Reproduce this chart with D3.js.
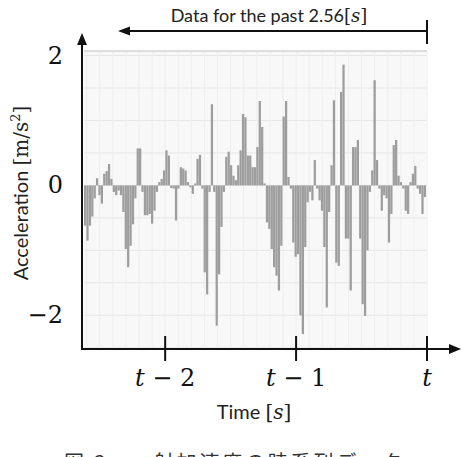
<!DOCTYPE html>
<html><head><meta charset="utf-8">
<script src="https://cdn.jsdelivr.net/npm/d3@7"></script>
<style>
html,body{margin:0;padding:0;background:#fff;}
svg{display:block;}
</style></head>
<body>
<svg id="chart" width="461" height="457"></svg>
<script>
// acceleration samples [m/s^2], oldest -> newest (past 2.56 s)
const accel = [
 -0.62,-0.85,-0.62,-0.48,-0.20, 0.11,-0.15,-0.28, 0.18, 0.22,
  0.33, 0.10,-0.10,-0.15,-0.08,-0.15,-0.41,-0.98,-1.26,-0.93,
 -0.60,-0.20, 0.57, 0.57,-0.10,-0.46,-0.46,-0.44,-0.59,-0.39,
 -0.10, 0.05, 0.10, 0.23, 0.54, 0.46,-0.04,-0.05,-0.54,-0.05,
  0.28, 0.26, 0.23, 0.05,-0.03,-0.13, 0.03, 0.41, 0.47,-0.05,
 -1.34,-1.68,-0.10, 1.25,-0.10,-2.16,-1.37,-0.64,-0.10, 0.44,
  0.52, 0.31, 0.15, 0.08, 0.31, 0.54, 1.10, 1.05, 0.46, 0.46,
  0.28, 0.28, 0.59, 1.30, 0.90, 0.03,-0.57,-0.67,-0.98,-1.26,
 -1.39,-1.62,-0.93, 1.06, 1.30, 0.13,-0.05,-0.88,-1.10,-1.06,
 -2.00,-2.29,-0.95,-0.26,-0.10,-0.23, 0.39,-0.05,-0.23,-0.39,
 -0.95,-1.88,-0.41, 0.31, 1.31,-1.19,-1.24, 1.44, 1.86,-0.82,
 -0.82,-1.62, 0.59, 0.59, 0.70,-0.82,-1.83,-2.01,-1.00,-0.10,
  0.23, 1.62, 0.39,-0.05,-0.39,-0.15,-0.20,-0.88,-0.44, 0.62,
  0.70, 0.15, 0.05,-0.05,-0.39,-0.44, 0.05, 0.18, 0.30,-0.05,
 -0.13,-0.44,-0.18
];
const sampleIndex = accel.map((d, i) => i);
const timeTicks = [-2, -1, 0];
const timeTickLabels = [["t", " − 2"], ["t", " − 1"], ["t", ""]];
const yTicks = [2, 0, -2];
const yTickLabels = ["2", "0", "−2"];
const titleText = "Data for the past 2.56";
const captionText = "図 3　　射加速度の時系列データ";

const svg = d3.select("#chart");
const mathFont = "'DejaVu Serif', serif";
const textFont = "Lato, 'Open Sans', sans-serif";

const plotL = 84, plotR = 427, plotT = 51, plotB = 349;
const y = d3.scaleLinear().domain([-2.52, 2.07]).range([plotB, plotT]);
const xt = d3.scaleLinear().domain([-2.62, 0]).range([plotL, plotR]);
const xb = d3.scaleBand().domain(sampleIndex).range([plotL, 426]).paddingInner(0.06);

// plot background
svg.append("rect").attr("x", plotL).attr("y", plotT).attr("width", plotR - plotL)
  .attr("height", plotB - plotT).attr("fill", "#f8f8f8");

// grid
const g = svg.append("g");
const hGrid = d3.range(-2.5, 2.01, 0.5);
g.selectAll(".hg").data(hGrid).join("line")
  .attr("x1", plotL).attr("x2", plotR)
  .attr("y1", d => y(d)).attr("y2", d => y(d))
  .attr("stroke", "#e6e6e6").attr("stroke-width", 1);
const vGrid = d3.range(-2.6, 0.001, 0.1);
g.selectAll(".vg").data(vGrid).join("line")
  .attr("x1", d => xt(d)).attr("x2", d => xt(d))
  .attr("y1", plotT).attr("y2", plotB)
  .attr("stroke", "#eeeeee").attr("stroke-width", 1);
svg.append("line").attr("x1", plotL).attr("x2", plotR).attr("y1", plotT).attr("y2", plotT)
  .attr("stroke", "#d4d4d4").attr("stroke-width", 1.5);

// bars
svg.append("g").selectAll("rect").data(accel).join("rect")
  .attr("x", (d, i) => xb(i))
  .attr("width", xb.bandwidth())
  .attr("y", d => y(Math.max(0, d)))
  .attr("height", d => Math.abs(y(d) - y(0)))
  .attr("fill", "#9d9d9d");

// axes
const ax = svg.append("g");
ax.append("line").attr("x1", 82).attr("x2", 82).attr("y1", plotB + 1).attr("y2", 40)
  .attr("stroke", "#111").attr("stroke-width", 2);
ax.append("path").attr("d", "M82,33 L77,45 L87,45 Z").attr("fill", "#111");
ax.append("line").attr("x1", 81).attr("x2", 452).attr("y1", plotB).attr("y2", plotB)
  .attr("stroke", "#111").attr("stroke-width", 2);
ax.append("path").attr("d", `M461,${plotB} L449,${plotB - 5} L449,${plotB + 5} Z`).attr("fill", "#111");

// x ticks
ax.selectAll(".xt").data(timeTicks).join("line")
  .attr("x1", d => xt(d)).attr("x2", d => xt(d))
  .attr("y1", plotB - 13).attr("y2", plotB + 12)
  .attr("stroke", "#111").attr("stroke-width", 2);
const xl = ax.selectAll(".xl").data(timeTicks).join("text")
  .attr("x", d => xt(d)).attr("y", 386)
  .attr("text-anchor", "middle")
  .attr("font-family", mathFont).attr("font-size", 24).attr("fill", "#111");
xl.append("tspan").attr("font-style", "italic").text((d, i) => timeTickLabels[i][0]);
xl.append("tspan").text((d, i) => timeTickLabels[i][1]);

// y tick labels
ax.selectAll(".yl").data(yTicks).join("text")
  .attr("x", 63).attr("y", d => y(d) + 8)
  .attr("text-anchor", "end")
  .attr("font-family", mathFont).attr("font-size", 24).attr("fill", "#111")
  .text((d, i) => yTickLabels[i]);

// axis titles
const xTitle = svg.append("text").attr("x", 254).attr("y", 419).attr("text-anchor", "middle")
  .attr("font-family", textFont).attr("font-size", 20).attr("fill", "#222");
xTitle.append("tspan").text("Time ");
xTitle.append("tspan").attr("font-family", mathFont).text("[");
xTitle.append("tspan").attr("font-family", mathFont).attr("font-style", "italic").text("s");
xTitle.append("tspan").attr("font-family", mathFont).text("]");

const yTitle = svg.append("text").attr("transform", "translate(28,193) rotate(-90)")
  .attr("text-anchor", "middle")
  .attr("font-family", textFont).attr("font-size", 20).attr("fill", "#222");
yTitle.append("tspan").text("Acceleration ");
yTitle.append("tspan").attr("font-family", mathFont).text("[m/s");
yTitle.append("tspan").attr("font-family", mathFont).attr("font-size", 13).attr("dy", -8).text("2");
yTitle.append("tspan").attr("font-family", mathFont).attr("dy", 8).text("]");

// top annotation
const topNote = svg.append("text").attr("x", 269).attr("y", 22).attr("text-anchor", "middle")
  .attr("font-family", textFont).attr("font-size", 18).attr("fill", "#222");
topNote.append("tspan").text(titleText);
topNote.append("tspan").attr("font-family", mathFont).text("[");
topNote.append("tspan").attr("font-family", mathFont).attr("font-style", "italic").text("s");
topNote.append("tspan").attr("font-family", mathFont).text("]");
svg.append("line").attr("x1", 124).attr("x2", xt(0)).attr("y1", 31).attr("y2", 31)
  .attr("stroke", "#111").attr("stroke-width", 2);
svg.append("path").attr("d", "M118,31 L130,26.5 L130,35.5 Z").attr("fill", "#111");
svg.append("line").attr("x1", xt(0)).attr("x2", xt(0)).attr("y1", 20).attr("y2", 44)
  .attr("stroke", "#111").attr("stroke-width", 2);

// cropped caption (only its top edge is visible in the reference)
svg.append("text").attr("x", 64).attr("y", 470)
  .attr("font-family", "'Noto Sans CJK JP', sans-serif").attr("font-size", 20).attr("fill", "#333")
  .attr("textLength", 338).text(captionText);
</script>
</body></html>
